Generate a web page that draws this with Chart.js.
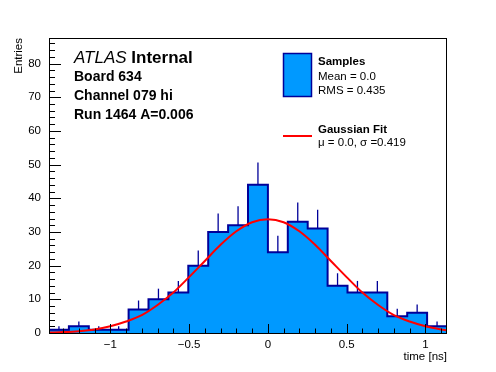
<!DOCTYPE html>
<html>
<head>
<meta charset="utf-8">
<script src="https://cdn.jsdelivr.net/npm/chart.js@4.4.1/dist/chart.umd.min.js"></script>
<style>
  html, body { margin: 0; padding: 0; background: #fff; }
  #c { display: block; }
</style>
</head>
<body>
<canvas id="c" width="496" height="372"></canvas>
<script>
// histogram: 20 bins of equal width
var xMin = -1.389;
var binWidth = 0.1263;
var counts = [1, 2, 1, 1, 7, 10, 12, 20, 30, 32, 44, 24, 33, 31, 14, 12, 12, 5, 6, 2];

// gaussian fit curve
var fitX = [-1.389, -1.3, -1.2, -1.1, -1.0, -0.9, -0.8, -0.7, -0.6, -0.5, -0.4, -0.3, -0.2, -0.1, 0,
            0.1, 0.2, 0.3, 0.4, 0.5, 0.6, 0.7, 0.8, 0.9, 1.0, 1.1, 1.137];
var fitY = [0.14, 0.28, 0.55, 1.05, 2.0, 3.4, 5.3, 8.3, 12.0, 16.6, 21.4, 26.2, 30.2, 32.9, 33.8,
            32.9, 30.2, 26.2, 21.4, 16.6, 12.0, 8.3, 5.3, 3.4, 2.0, 1.05, 0.8];

// axis ticks
var xTicks = [-1, -0.5, 0, 0.5, 1];
var yTicks = [0, 10, 20, 30, 40, 50, 60, 70, 80];
var yMax = 87.6;

var FONT = '"Liberation Sans", Arial, Helvetica, sans-serif';
var FILL = 'rgb(0,153,255)';
var LINE = 'rgb(0,0,153)';

var xMax = xMin + counts.length * binWidth;

// step outline points (left edge of each bin + closing right edge)
var histPoints = counts.map(function(n, i) {
    return { x: xMin + i * binWidth, y: n };
});
histPoints.push({ x: xMax, y: counts[counts.length - 1] });

var fitPoints = fitX.map(function(x, i) {
    return { x: x, y: fitY[i] };
});

// error bars (upper half only, lower half is hidden under the fill)
var errorBars = {
    id: 'errorBars',
    afterDatasetDraw: function(chart, args) {
        if (args.index !== 0) return;
        var ctx = chart.ctx;
        var xs = chart.scales.x, ys = chart.scales.y;
        ctx.save();
        ctx.strokeStyle = LINE;
        ctx.lineWidth = 1.3;
        counts.forEach(function(n, i) {
            if (n <= 0) return;
            var px = xs.getPixelForValue(xMin + (i + 0.5) * binWidth);
            ctx.beginPath();
            ctx.moveTo(px, ys.getPixelForValue(n));
            ctx.lineTo(px, ys.getPixelForValue(Math.min(n + Math.sqrt(n), yMax)));
            ctx.stroke();
        });
        ctx.restore();
    }
};

// frame, inward ticks, text and legend
var decorations = {
    id: 'decorations',
    afterDraw: function(chart) {
        var ctx = chart.ctx;
        var a = chart.chartArea;
        var xs = chart.scales.x, ys = chart.scales.y;
        ctx.save();

        ctx.strokeStyle = '#000';
        ctx.lineWidth = 1;
        ctx.strokeRect(a.left + 0.5, a.top + 0.5, a.right - a.left - 1, a.bottom - a.top);

        // x ticks every 0.1, major every 0.5
        ctx.beginPath();
        for (var k = -13; k <= 11; k++) {
            var v = k / 10;
            if (v < xMin || v > xMax) continue;
            var px = Math.round(xs.getPixelForValue(v)) + 0.5;
            var len = (k % 5 === 0) ? 9 : 4.5;
            ctx.moveTo(px, a.bottom);
            ctx.lineTo(px, a.bottom - len);
        }
        // y ticks every 2, major every 10
        for (var j = 0; j <= 86; j += 2) {
            var py = Math.round(ys.getPixelForValue(j)) + 0.5;
            var l = (j % 10 === 0) ? 12 : 6;
            ctx.moveTo(a.left, py);
            ctx.lineTo(a.left + l, py);
        }
        ctx.stroke();

        // labels top left
        ctx.fillStyle = '#000';
        ctx.textBaseline = 'alphabetic';
        ctx.textAlign = 'left';
        ctx.font = 'italic 17px ' + FONT;
        ctx.fillText('ATLAS', 74, 63);
        var w = ctx.measureText('ATLAS ').width;
        ctx.font = 'bold 17px ' + FONT;
        ctx.fillText('Internal', 74 + w, 63);
        ctx.font = 'bold 14px ' + FONT;
        ctx.fillText('Board 634', 74, 81);
        ctx.fillText('Channel 079 hi', 74, 100);
        ctx.fillText('Run 1464 A=0.006', 74, 119);

        // legend
        ctx.fillStyle = FILL;
        ctx.fillRect(283.5, 53.5, 28, 43);
        ctx.strokeStyle = LINE;
        ctx.lineWidth = 1.5;
        ctx.strokeRect(283.5, 53.5, 28, 43);

        ctx.strokeStyle = 'rgb(255,0,0)';
        ctx.lineWidth = 2;
        ctx.beginPath();
        ctx.moveTo(283, 136);
        ctx.lineTo(312, 136);
        ctx.stroke();

        ctx.fillStyle = '#000';
        ctx.font = 'bold 11.5px ' + FONT;
        ctx.fillText('Samples', 318, 65);
        ctx.fillText('Gaussian Fit', 318, 132.5);
        ctx.font = '11.5px ' + FONT;
        ctx.fillText('Mean = 0.0', 318, 80);
        ctx.fillText('RMS = 0.435', 318, 93.5);
        ctx.fillText('\u03bc = 0.0, \u03c3 =0.419', 318, 146);

        ctx.restore();
    }
};

var chart = new Chart(document.getElementById('c'), {
    type: 'line',
    data: {
        datasets: [{
            label: 'Samples',
            data: histPoints,
            stepped: 'before',
            fill: 'origin',
            backgroundColor: FILL,
            borderColor: LINE,
            borderWidth: 2,
            pointRadius: 0,
            order: 2
        }, {
            label: 'Gaussian Fit',
            data: fitPoints,
            fill: false,
            borderColor: 'rgb(255,0,0)',
            borderWidth: 2,
            pointRadius: 0,
            tension: 0.4,
            cubicInterpolationMode: 'monotone',
            order: 1
        }]
    },
    options: {
        responsive: false,
        animation: false,
        layout: { padding: { top: 38, right: 49, left: 0, bottom: 0 } },
        plugins: {
            legend: { display: false },
            tooltip: { enabled: false }
        },
        scales: {
            x: {
                type: 'linear',
                min: xMin,
                max: xMax,
                grid: { display: false, drawTicks: false },
                border: { display: false },
                afterBuildTicks: function(scale) {
                    scale.ticks = xTicks.map(function(v) { return { value: v }; });
                },
                afterFit: function(scale) { scale.height = 39; },
                ticks: {
                    padding: 5,
                    maxRotation: 0,
                    color: '#000',
                    font: { family: FONT, size: 11.5 },
                    callback: function(v) {
                        return (v < 0 ? '\u2212' : '') + Math.abs(v);
                    }
                },
                title: {
                    display: true,
                    text: 'time [ns]',
                    align: 'end',
                    color: '#000',
                    font: { family: FONT, size: 11.5 },
                    padding: { top: 0, bottom: 8 }
                }
            },
            y: {
                min: 0,
                max: yMax,
                grid: { display: false, drawTicks: false },
                border: { display: false },
                afterBuildTicks: function(scale) {
                    scale.ticks = yTicks.map(function(v) { return { value: v }; });
                },
                afterFit: function(scale) { scale.width = 49; },
                ticks: {
                    padding: 8,
                    color: '#000',
                    font: { family: FONT, size: 11.5 }
                },
                title: {
                    display: true,
                    text: 'Entries',
                    align: 'end',
                    color: '#000',
                    font: { family: FONT, size: 11.5 },
                    padding: { top: 12, bottom: 0 }
                }
            }
        }
    },
    plugins: [errorBars, decorations]
});
</script>
</body>
</html>
